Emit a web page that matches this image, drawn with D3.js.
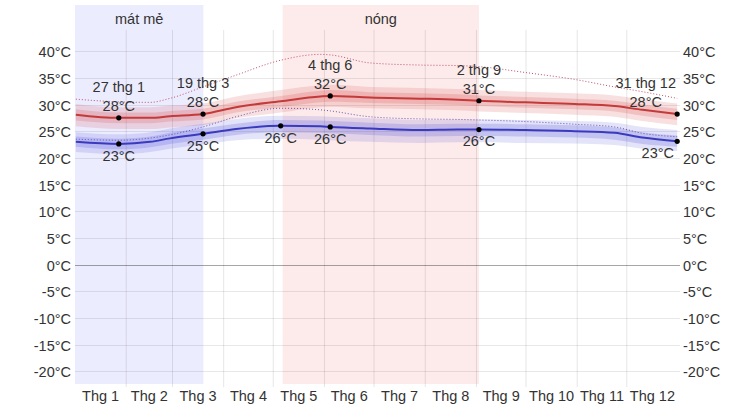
<!DOCTYPE html>
<html>
<head>
<meta charset="utf-8">
<script src="https://cdn.jsdelivr.net/npm/d3@7"></script>
<style>
  html, body { margin: 0; padding: 0; background: #fff; }
  svg { display: block; font-family: "Liberation Sans", Arial, sans-serif; }
  text { fill: #333; font-size: 14.5px; }
</style>
</head>
<body>
<svg id="chart" width="753" height="407"></svg>
<script>
// ---------- DATA ----------
const monthLabels = ["Thg 1","Thg 2","Thg 3","Thg 4","Thg 5","Thg 6","Thg 7","Thg 8","Thg 9","Thg 10","Thg 11","Thg 12"];
const monthStarts = [0,31,59,90,120,151,181,212,243,273,304,334,365];
const yTicks = [-20,-15,-10,-5,0,5,10,15,20,25,30,35,40];

// day-of-year index (0 = 1 Jan)
const days     = [0, 26, 45, 57, 77, 97, 124, 148, 154, 178, 208, 231, 244, 272, 302, 326, 343, 364];
const avgHigh  = [28.2, 27.6, 27.6, 27.9, 28.3, 29.6, 30.7, 31.6, 31.7, 31.4, 31.2, 31.0, 30.8, 30.5, 30.2, 29.8, 29.1, 28.3];
const avgLow   = [23.1, 22.7, 23.1, 23.75, 24.6, 25.5, 26.1, 26.0, 25.9, 25.6, 25.3, 25.4, 25.4, 25.3, 25.1, 24.8, 23.9, 23.2];
const highP90  = [30.2, 29.6, 29.6, 29.9, 30.3, 31.6, 32.8, 33.7, 33.8, 33.4, 33.2, 33.0, 32.8, 32.5, 32.2, 31.8, 31.1, 30.3];
const highP75  = [29.2, 28.6, 28.6, 28.9, 29.3, 30.6, 31.7, 32.7, 32.8, 32.4, 32.2, 32.0, 31.8, 31.5, 31.2, 30.8, 30.1, 29.3];
const highP25  = [27.1, 26.6, 26.6, 26.9, 27.3, 28.6, 29.6, 30.5, 30.6, 30.4, 30.2, 30.0, 29.8, 29.5, 29.2, 28.8, 28.0, 27.2];
const highP10  = [26.0, 25.5, 25.5, 25.8, 26.2, 27.5, 28.6, 29.6, 29.7, 29.4, 29.2, 29.0, 28.8, 28.5, 28.2, 27.8, 27.0, 26.2];
const lowP90   = [24.9, 24.5, 24.9, 25.6, 26.5, 27.4, 28.0, 27.9, 27.8, 27.5, 27.2, 27.3, 27.3, 27.2, 27.0, 26.7, 25.9, 25.3];
const lowP75   = [24.1, 23.7, 24.1, 24.8, 25.6, 26.5, 27.2, 27.1, 27.0, 26.7, 26.4, 26.5, 26.5, 26.4, 26.2, 25.8, 24.9, 24.3];
const lowP25   = [22.2, 21.7, 22.1, 22.7, 23.5, 24.4, 24.9, 24.8, 24.7, 24.4, 24.1, 24.2, 24.2, 24.1, 23.9, 23.5, 22.7, 22.2];
const lowP10   = [21.2, 20.8, 21.2, 21.8, 22.6, 23.4, 23.7, 23.5, 23.4, 23.1, 22.9, 23.0, 23.0, 22.9, 22.8, 22.5, 21.8, 21.4];
const feelHigh = [31.1, 30.6, 30.5, 31.25, 33.4, 35.6, 38.4, 39.5, 39.4, 37.9, 37.5, 37.4, 37.2, 36.1, 34.8, 33.4, 32.5, 31.25];
const feelLow  = [23.6, 23.4, 23.8, 24.4, 25.9, 27.8, 29.4, 29.1, 28.9, 27.8, 27.4, 27.3, 27.2, 26.9, 26.4, 25.9, 24.7, 24.05];

const seasonNames  = ["mát mẻ", "nóng"];
const seasonStarts = [0, 125.7];
const seasonEnds   = [77.7, 244.5];

const highNotes = [ // [day, date label, value label]
  [26, "27 thg 1", "28°C"], [77, "19 thg 3", "28°C"], [154, "4 thg 6", "32°C"],
  [244, "2 thg 9", "31°C"], [364, "31 thg 12", "28°C"]
];
const lowNotes = [
  [26, "23°C"], [77, "25°C"], [124, "26°C"], [154, "26°C"], [244, "26°C"], [364, "23°C"]
];

// ---------- LAYOUT ----------
const W = 753, H = 407;
const left = 75, right = 678, plotTop = 5, plotBottom = 384;
const svg = d3.select("#chart");
const x = d3.scaleLinear().domain([0, 365]).range([left, right]);
const y = d3.scaleLinear().domain([-20, 40]).range([371.7, 51.7]);
const xd = d => x(d + 0.5);

// seasons
const seasons = seasonNames.map((n, i) => ({name: n, s: seasonStarts[i], e: seasonEnds[i]}));
svg.append("g").selectAll("rect").data(seasons).join("rect")
  .attr("x", d => x(d.s)).attr("width", d => x(d.e) - x(d.s))
  .attr("y", plotTop).attr("height", plotBottom - plotTop)
  .attr("fill", (d, i) => i === 0 ? "#ececff" : "#fdebeb");
svg.append("g").selectAll("text").data(seasons).join("text")
  .attr("x", d => (x(d.s) + x(d.e)) / 2).attr("y", 24)
  .attr("text-anchor", "middle").text(d => d.name);

// gridlines
svg.append("g").selectAll("line").data(yTicks).join("line")
  .attr("x1", left).attr("x2", right + 2)
  .attr("y1", d => y(d)).attr("y2", d => y(d))
  .attr("stroke", d => d === 0 ? "rgba(0,0,0,0.35)" : "rgba(0,0,0,0.09)")
  .attr("stroke-width", 1).attr("shape-rendering", "crispEdges");
svg.append("g").selectAll("line").data(monthStarts.slice(1, 12)).join("line")
  .attr("x1", d => x(d)).attr("x2", d => x(d))
  .attr("y1", 30).attr("y2", 387)
  .attr("stroke", "rgba(0,0,0,0.1)").attr("stroke-width", 1);

// axes labels
const yl = svg.append("g");
yl.selectAll("text.l").data(yTicks).join("text").attr("class", "l")
  .attr("x", 71).attr("y", d => y(d) + 5.5).attr("text-anchor", "end")
  .text(d => d + "°C");
yl.selectAll("text.r").data(yTicks).join("text").attr("class", "r")
  .attr("x", 683).attr("y", d => y(d) + 5.5).attr("text-anchor", "start")
  .text(d => d + "°C");
svg.append("g").selectAll("text").data(monthLabels).join("text")
  .attr("x", (d, i) => (x(monthStarts[i]) + x(monthStarts[i + 1])) / 2)
  .attr("y", 401).attr("text-anchor", "middle").text(d => d);

// bands
const idx = days.map((d, i) => i);
const curve = d3.curveMonotoneX;
const band = (lo, hi) => d3.area().curve(curve).x(i => xd(days[i])).y0(i => y(lo[i])).y1(i => y(hi[i]));
const line = arr => d3.line().curve(curve).x(i => xd(days[i])).y(i => y(arr[i]));

svg.append("path").attr("d", band(highP10, highP90)(idx)).attr("fill", "rgba(215,70,70,0.17)");
svg.append("path").attr("d", band(highP25, highP75)(idx)).attr("fill", "rgba(215,70,70,0.2)");
svg.append("path").attr("d", band(lowP10, lowP90)(idx)).attr("fill", "rgba(70,70,215,0.15)");
svg.append("path").attr("d", band(lowP25, lowP75)(idx)).attr("fill", "rgba(70,70,215,0.2)");

svg.append("path").attr("d", line(avgHigh)(idx)).attr("fill", "none").attr("stroke", "#c43a3a").attr("stroke-width", 2);
svg.append("path").attr("d", line(avgLow)(idx)).attr("fill", "none").attr("stroke", "#3a3abf").attr("stroke-width", 2);

svg.append("path").attr("d", line(feelHigh)(idx)).attr("fill", "none").attr("stroke", "#c0506a")
  .attr("stroke-width", 1).attr("stroke-dasharray", "1,2");
svg.append("path").attr("d", line(feelLow)(idx)).attr("fill", "none").attr("stroke", "#6a55b0")
  .attr("stroke-width", 1).attr("stroke-dasharray", "1,2");

// annotations
const valAt = (arr, d) => arr[days.indexOf(d)];
const ann = svg.append("g");
highNotes.forEach(([d, dl, vl]) => {
  const cx = xd(d), cy = y(valAt(avgHigh, d));
  ann.append("circle").attr("cx", cx).attr("cy", cy).attr("r", 2.6).attr("fill", "#000");
  const t1 = ann.append("text").attr("y", cy - 26).attr("text-anchor", "middle").text(dl);
  const w1 = t1.node().getComputedTextLength();
  let tx = Math.min(cx, 676 - w1 / 2);
  tx = Math.max(tx, left + w1 / 2);
  t1.attr("x", tx);
  ann.append("text").attr("x", tx).attr("y", cy - 6.7).attr("text-anchor", "middle").text(vl);
});
lowNotes.forEach(([d, vl]) => {
  const cx = xd(d), cy = y(valAt(avgLow, d));
  ann.append("circle").attr("cx", cx).attr("cy", cy).attr("r", 2.6).attr("fill", "#000");
  const t = ann.append("text").attr("y", cy + 16.7).attr("text-anchor", "middle").text(vl);
  const w = t.node().getComputedTextLength();
  t.attr("x", Math.max(left + w / 2, Math.min(cx, 674 - w / 2)));
});
</script>
</body>
</html>
